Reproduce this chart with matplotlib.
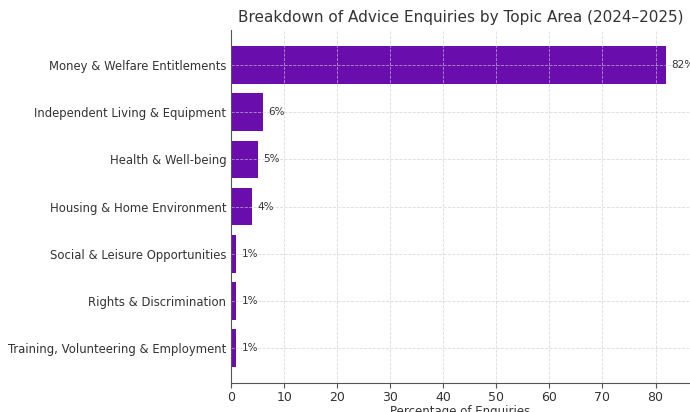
import matplotlib.pyplot as plt

topics = [
    'Money & Welfare Entitlements',
    'Independent Living & Equipment',
    'Health & Well-being',
    'Housing & Home Environment',
    'Social & Leisure Opportunities',
    'Rights & Discrimination',
    'Training, Volunteering & Employment',
]
percent = [82, 6, 5, 4, 1, 1, 1]


def main():
    fig = plt.figure(figsize=(6.9, 4.12), dpi=100)
    ax = fig.add_axes([0.335, 0.07, 0.665, 0.857])
    ax.barh(topics, percent, color='#6a0dad', height=0.8)
    ax.invert_yaxis()
    ax.grid(True, linestyle='--', color='#cccccc', linewidth=0.6, alpha=0.7)
    for i, v in enumerate(percent):
        ax.text(v + 1, i, f'{v}%', va='center', ha='left', fontsize=7.5, color='#333333')
    ax.set_xlim(0, 86.5)
    ax.set_xticks(range(0, 81, 10))
    ax.tick_params(axis='y', labelsize=8.4, length=0, labelcolor='#333333')
    ax.tick_params(axis='x', labelsize=9, labelcolor='#333333', color='#555555', pad=2)
    for s in ['left', 'bottom']:
        ax.spines[s].set_color('#555555')
    ax.spines['top'].set_visible(False)
    ax.spines['right'].set_visible(False)
    ax.set_xlabel('Percentage of Enquiries', fontsize=8.5, color='#333333', labelpad=1)
    ax.set_title('Breakdown of Advice Enquiries by Topic Area (2024–2025)', fontsize=11, color='#333333')
    plt.savefig('out.png')


if __name__ == '__main__':
    main()
